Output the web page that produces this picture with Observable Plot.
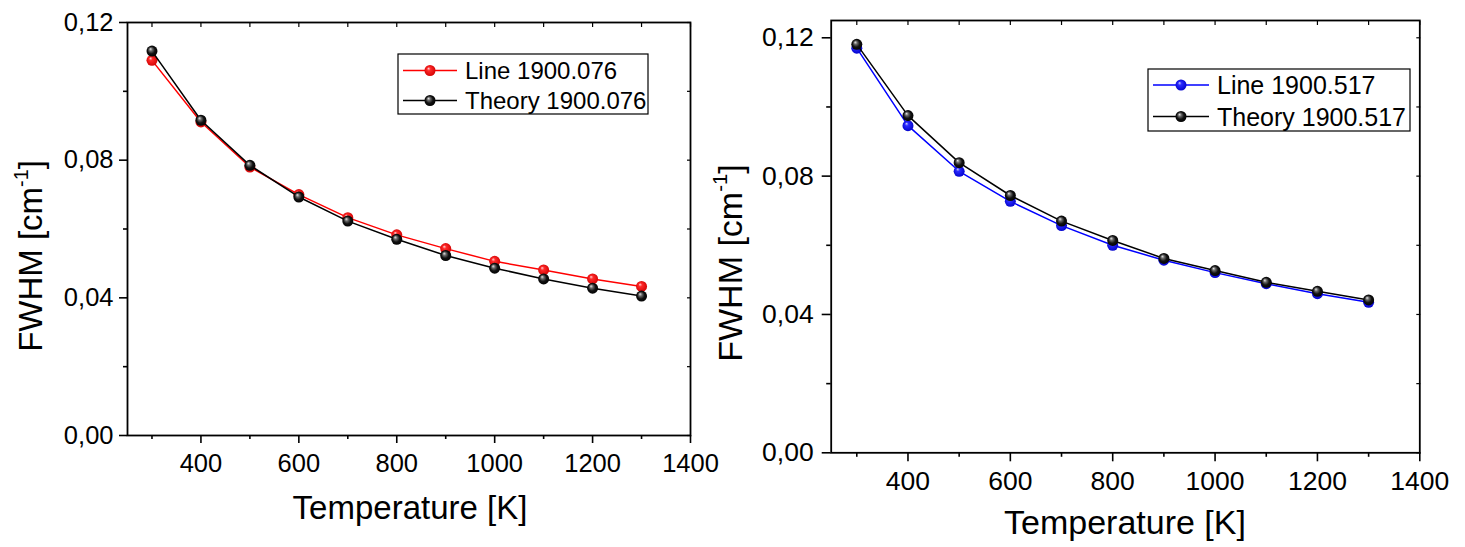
<!DOCTYPE html>
<html>
<head>
<meta charset="utf-8">
<script src="https://cdn.jsdelivr.net/npm/d3@7"></script>
<script src="https://cdn.jsdelivr.net/npm/@observablehq/plot@0.6"></script>
<style>
  html, body { margin: 0; padding: 0; background: #fff; }
  #wrap { position: relative; width: 1465px; height: 547px; overflow: hidden; background: #fff; }
</style>
</head>
<body>
<div id="wrap"></div>
<script>
// ---- data ----
const temperatures = [300, 400, 500, 600, 700, 800, 900, 1000, 1100, 1200, 1300];
const line1900076 = [0.1090, 0.0911, 0.0780, 0.0700, 0.0633, 0.0583, 0.0543, 0.0506, 0.0481, 0.0455, 0.0433];
const theory1900076 = [0.1117, 0.0916, 0.0785, 0.0693, 0.0623, 0.0570, 0.0523, 0.0486, 0.0455, 0.0428, 0.0405];
const line1900517 = [0.1170, 0.0946, 0.0814, 0.0727, 0.0657, 0.0600, 0.0557, 0.0521, 0.0489, 0.0460, 0.0435];
const theory1900517 = [0.1181, 0.0975, 0.0839, 0.0744, 0.0670, 0.0614, 0.0562, 0.0527, 0.0493, 0.0467, 0.0442];
const seriesNames = ["Line 1900.076", "Theory 1900.076", "Line 1900.517", "Theory 1900.517"];
const xMajorTicks = [400, 600, 800, 1000, 1200, 1400];
const xMinorTicks = [300, 500, 700, 900, 1100, 1300];
const yMajorTicks = [0, 0.04, 0.08, 0.12];
const yMinorTicks = [0.02, 0.06, 0.10];
const xTitle = "Temperature [K]";
const yTitleMain = "FWHM [cm";
const yTitleSup = "-1";
const yTitleEnd = "]";

const FONT = "'Liberation Sans', Arial, Helvetica, sans-serif";
const rows = vals => temperatures.map((t, i) => ({T: t, v: vals[i]}));

function addGradients(svg, prefix) {
  const defs = d3.select(svg).insert("defs", ":first-child");
  const mk = (id, stops) => {
    const g = defs.append("radialGradient").attr("id", prefix + id)
      .attr("cx", "0.5").attr("cy", "0.5").attr("r", "0.55").attr("fx", "0.35").attr("fy", "0.3");
    stops.forEach(([o, c]) => g.append("stop").attr("offset", o).attr("stop-color", c));
  };
  mk("black", [[0, "#e8e8e8"], [0.28, "#666"], [0.6, "#111"], [1, "#000"]]);
  mk("red", [[0, "#ffd8d8"], [0.3, "#ff2a2a"], [1, "#d00000"]]);
  mk("blue", [[0, "#d0d0ff"], [0.3, "#2a2aff"], [1, "#0000c8"]]);
}

function panel(cfg) {
  const fmt = d => d.toFixed(2).replace(".", ",");
  const colored = rows(cfg.lineVals);
  const theory = rows(cfg.theoryVals);
  const plot = Plot.plot({
    width: cfg.width, height: 547,
    marginLeft: cfg.ml, marginRight: cfg.mr, marginTop: cfg.mt, marginBottom: cfg.mb,
    x: {domain: [250, 1400], label: null},
    y: {domain: [0, cfg.yMax], label: null},
    style: {fontFamily: FONT, color: "black", background: "transparent", overflow: "visible"},
    marks: [
      Plot.axisX(xMajorTicks, {tickSize: cfg.tick, tickPadding: cfg.xPad, fontSize: cfg.tickFont, strokeWidth: 1.6, label: null, tickFormat: d => String(d)}),
      Plot.axisX(xMinorTicks, {tickSize: cfg.tick / 2, strokeWidth: 1.6, fill: "none", label: null}),
      Plot.axisX([...xMajorTicks, ...xMinorTicks], {anchor: "top", tickSize: 4, dy: 4, strokeWidth: 1.2, fill: "none", label: null}),
      Plot.axisY(yMajorTicks, {tickSize: cfg.tick, tickPadding: cfg.yPad, fontSize: cfg.tickFont, strokeWidth: 1.6, label: null, tickFormat: fmt}),
      Plot.axisY(yMinorTicks, {tickSize: cfg.tick / 2, strokeWidth: 1.6, fill: "none", label: null}),
      Plot.axisY([...yMajorTicks, ...yMinorTicks], {anchor: "right", tickSize: 4, dx: -4, strokeWidth: 1.2, fill: "none", label: null}),
      Plot.frame({stroke: "black", strokeWidth: 1.8}),
      Plot.line(colored, {x: "T", y: "v", stroke: cfg.color, strokeWidth: 1.5}),
      Plot.dot(colored, {x: "T", y: "v", r: 5.5, fill: `url(#${cfg.id}${cfg.colorName})`, stroke: "none"}),
      Plot.line(theory, {x: "T", y: "v", stroke: "black", strokeWidth: 1.5}),
      Plot.dot(theory, {x: "T", y: "v", r: 5.5, fill: `url(#${cfg.id}black)`, stroke: "none"})
    ]
  });
  plot.style.position = "absolute";
  plot.style.left = cfg.left + "px";
  plot.style.top = "0px";
  addGradients(plot, cfg.id);
  const svg = d3.select(plot);
  // axis titles
  svg.append("text").attr("x", cfg.xTitleX).attr("y", cfg.xTitleY)
    .attr("text-anchor", "middle").attr("font-size", cfg.titleFont).attr("fill", "black")
    .style("font-family", FONT).text(xTitle);
  const yt = svg.append("text")
    .attr("transform", `translate(${cfg.yTitleX},${cfg.yTitleY}) rotate(-90)`)
    .attr("text-anchor", "middle").attr("font-size", cfg.titleFont).attr("fill", "black")
    .style("font-family", FONT);
  yt.append("tspan").text(yTitleMain);
  yt.append("tspan").attr("font-size", cfg.titleFont * 0.6).attr("dy", -cfg.titleFont * 0.42).text(yTitleSup);
  yt.append("tspan").attr("dy", cfg.titleFont * 0.42).text(yTitleEnd);
  // legend
  const L = cfg.legend;
  svg.append("rect").attr("x", L.x).attr("y", L.y).attr("width", L.w).attr("height", L.h)
    .attr("fill", "white").attr("stroke", "black").attr("stroke-width", 1.2);
  const entries = [
    {name: cfg.names[0], color: cfg.color, grad: cfg.colorName, y: L.r1},
    {name: cfg.names[1], color: "black", grad: "black", y: L.r2}
  ];
  entries.forEach(e => {
    svg.append("line").attr("x1", L.l1).attr("x2", L.l2).attr("y1", e.y).attr("y2", e.y)
      .attr("stroke", e.color).attr("stroke-width", 1.5);
    svg.append("circle").attr("cx", (L.l1 + L.l2) / 2).attr("cy", e.y).attr("r", 5.5)
      .attr("fill", `url(#${cfg.id}${e.grad})`);
    svg.append("text").attr("x", L.tx).attr("y", e.y).attr("dy", "0.36em")
      .attr("text-anchor", "start")
      .attr("font-size", L.font).attr("fill", "black").style("font-family", FONT).text(e.name);
  });
  return plot;
}

const wrap = document.getElementById("wrap");
wrap.appendChild(panel({
  id: "p1", left: 0, width: 720, ml: 127, mr: 30, mt: 22, mb: 112, yMax: 0.12,
  tick: 8, xPad: 10, yPad: 6, tickFont: 25.5, titleFont: 33,
  lineVals: line1900076, theoryVals: theory1900076, color: "#ff0000", colorName: "red",
  names: [seriesNames[0], seriesNames[1]],
  xTitleX: 410, xTitleY: 519, yTitleX: 41.5, yTitleY: 256,
  legend: {x: 398, y: 54, w: 250, h: 60, r1: 70.5, r2: 100.5, l1: 403, l2: 457, tx: 465, font: 24}
}));
wrap.appendChild(panel({
  id: "p2", left: 720, width: 745, ml: 110.7, mr: 45.7, mt: 20, mb: 94.7, yMax: 0.125,
  tick: 9, xPad: 9, yPad: 8.5, tickFont: 26.5, titleFont: 34,
  lineVals: line1900517, theoryVals: theory1900517, color: "#0000ff", colorName: "blue",
  names: [seriesNames[2], seriesNames[3]],
  xTitleX: 405, xTitleY: 534, yTitleX: 21.7, yTitleY: 263,
  legend: {x: 428, y: 69, w: 262, h: 62, r1: 85, r2: 116.5, l1: 433, l2: 489, tx: 497, font: 25}
}));
</script>
</body>
</html>
